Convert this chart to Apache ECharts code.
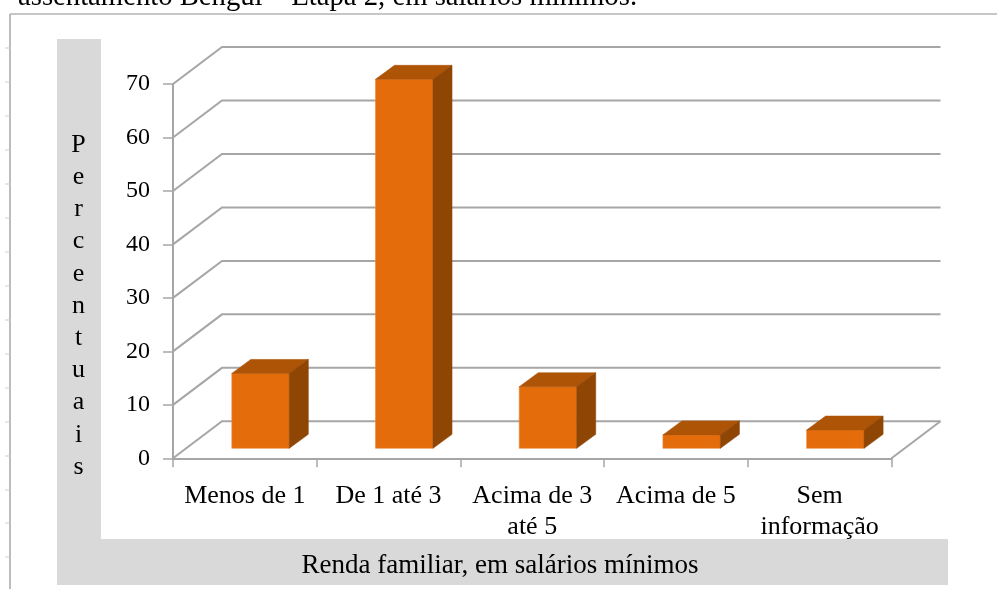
<!DOCTYPE html>
<html><head><meta charset="utf-8">
<style>html,body{margin:0;padding:0;background:#fff}#c{width:997px;height:589px}</style>
<script src="https://cdn.jsdelivr.net/npm/echarts@6/dist/echarts.min.js"></script>
</head><body><div id="c"></div>
<script>
var categories = ['Menos de 1','De 1 até 3','Acima de 3\naté 5','Acima de 5','Sem\ninformação'];
var percentuais = [14, 69, 11.5, 2.5, 3.4];
var valueTicks = [0,10,20,30,40,50,60,70];
var caption = 'assentamento Bengui – Etapa 2, em salários mínimos.';
var xTitle = 'Renda familiar, em salários mínimos';
var yTitle = 'P\ne\nr\nc\ne\nn\nt\nu\na\ni\ns';

var SERIF = '"Liberation Serif", serif';
var WALL = [49, -37], BAR_OFF = [15.7, -10], BAR_D = [19, -14];
var LINE = '#a6a6a6';
var chart = echarts.init(document.getElementById('c'), null, {renderer:'canvas'});

var frameTicks = [];
[48,82,116,150,184,218,252,286,320,354,388,422,456,490,523,557].forEach(function(y){
  frameTicks.push({type:'line',shape:{x1:5,y1:y,x2:10,y2:y},style:{stroke:'#cfcfcf',lineWidth:1}});
});

function poly(points, fill, stroke){
  return {type:'polygon',shape:{points:points},style:{fill:fill,stroke:stroke||fill,lineWidth:0.6}};
}
chart.setOption({
  animation:false,
  backgroundColor:'#fff',
  grid:{left:173,right:105.5,top:84,bottom:130.7,containLabel:false},
  xAxis:{type:'category',data:categories,boundaryGap:true,
    axisLine:{lineStyle:{color:LINE,width:2}},
    axisTick:{show:true,alignWithLabel:false,length:9,lineStyle:{color:LINE,width:1.5}},
    axisLabel:{interval:0,margin:22,fontFamily:SERIF,fontSize:26,color:'#000',lineHeight:31},
    splitLine:{show:false}},
  yAxis:{type:'value',min:0,max:70,interval:10,
    axisLine:{show:true,lineStyle:{color:LINE,width:2}},
    axisTick:{show:true,length:10,lineStyle:{color:LINE,width:1.5}},
    axisLabel:{margin:23,fontFamily:SERIF,fontSize:24,color:'#000',padding:[3,0,0,0]},
    splitLine:{show:false}},
  graphic:[
    {type:'rect',z:-1,shape:{x:57,y:39,width:44,height:546},style:{fill:'#d9d9d9'}},
    {type:'rect',z:-1,shape:{x:57,y:539,width:891,height:46},style:{fill:'#d9d9d9'}},
    {type:'line',shape:{x1:10,y1:14,x2:10,y2:589},style:{stroke:'#a6a6a6',lineWidth:1.5}},
    {type:'line',shape:{x1:10,y1:14,x2:997,y2:14},style:{stroke:'#b5b5b5',lineWidth:1.5}},
    {type:'text',x:18,y:-17,style:{text:caption,font:'28.7px '+SERIF,fill:'#000'}},
    {type:'text',x:78.5,y:306,style:{text:yTitle,font:'26px '+SERIF,fill:'#000',align:'center',verticalAlign:'middle',lineHeight:32.2}},
    {type:'text',x:500,y:566,style:{text:xTitle,font:'27px '+SERIF,fill:'#000',align:'center',verticalAlign:'middle'}}
  ].concat(frameTicks),
  series:[
    {type:'custom',name:'walls',coordinateSystem:'cartesian2d',z:1,silent:true,
     data:valueTicks.map(function(v){return [0,v];}),
     encode:{x:0,y:1},
     renderItem:function(params,api){
       var y=api.coord([0,api.value(1)])[1], cs=params.coordSys, x0=cs.x, x1=cs.x+cs.width;
       var kids=[{type:'polyline',shape:{points:[[x0,y],[x0+WALL[0],y+WALL[1]],[x1+WALL[0],y+WALL[1]]]},
         style:{fill:null,stroke:LINE,lineWidth:2}}];
       if(api.value(1)===0){
         kids.push({type:'line',shape:{x1:x1,y1:y,x2:x1+WALL[0],y2:y+WALL[1]},style:{stroke:LINE,lineWidth:2}});
       }
       return {type:'group',children:kids};
     }},
    {type:'custom',name:'percentuais',coordinateSystem:'cartesian2d',z:3,
     data:percentuais.map(function(v,i){return [i,v];}),
     encode:{x:0,y:1},
     renderItem:function(params,api){
       var top=api.coord([api.value(0),api.value(1)]), base=api.coord([api.value(0),0]);
       var w=api.size([1,0])[0]*0.4;
       var l=top[0]+BAR_OFF[0]-w/2, r=l+w, t=top[1]+BAR_OFF[1], b=base[1]+BAR_OFF[1];
       var dx=BAR_D[0], dy=BAR_D[1];
       return {type:'group',children:[
         poly([[l,t],[r,t],[r,b],[l,b]],'#e46c0a','#eb8a3c'),
         poly([[l,t],[l+dx,t+dy],[r+dx,t+dy],[r,t]],'#ae5407'),
         poly([[r,t],[r+dx,t+dy],[r+dx,b+dy],[r,b]],'#8f4504')
       ]};
     }}
  ]
});
</script></body></html>
